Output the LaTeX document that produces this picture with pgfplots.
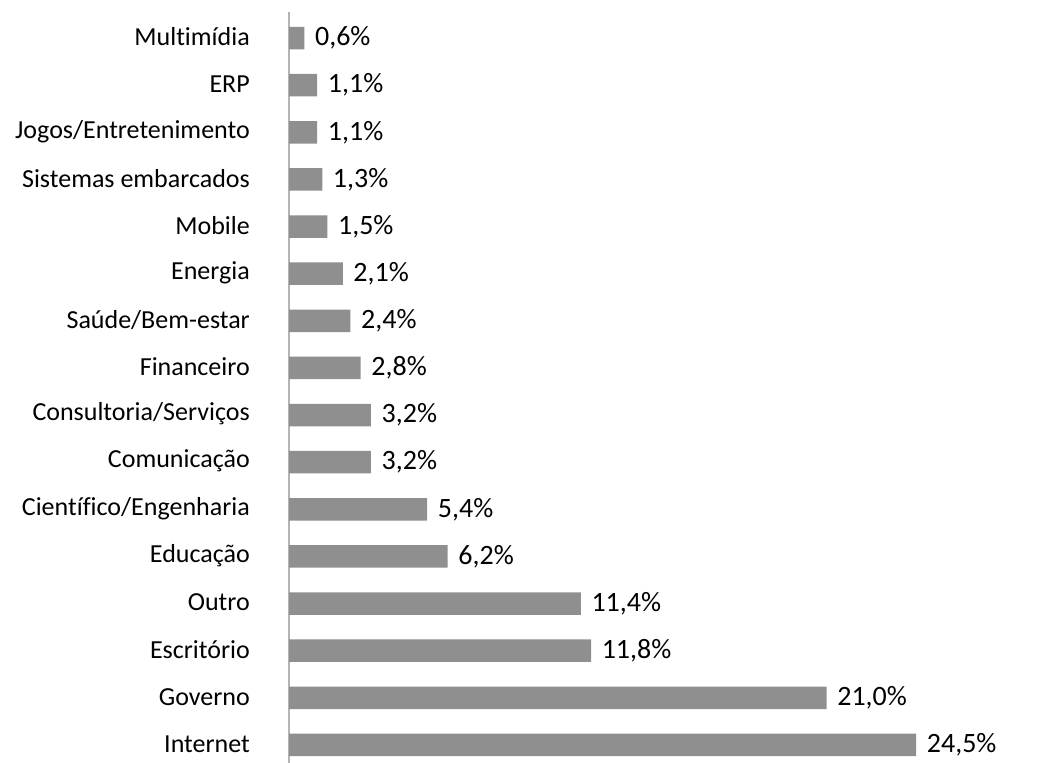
\documentclass[border=0pt]{standalone}
\usepackage{pgfplots}
\pgfplotsset{compat=1.18}
\usepackage{fontspec}
\setmainfont{Carlito}[RawFeature={-liga;-clig;-calt;-dlig}]
\definecolor{barc}{HTML}{8F8F8F}
\definecolor{axc}{HTML}{B4B4B4}
\begin{document}
\begin{tikzpicture}
\useasboundingbox (0,0) rectangle (1061bp,763bp);
\begin{axis}[
  at={(289bp,0.1bp)}, anchor=south west,
  scale only axis, width=742.4bp, height=750.8bp,
  xmin=0, xmax=29, ymin=-0.38, ymax=15.55,
  xbar, bar width=22.5bp, bar shift=0pt,
  axis x line=none,
  axis y line*=left,
  axis line style={draw=axc, line width=1.5bp},
  xtick=\empty,
  ytick={0,...,15},
  yticklabels={Internet,Governo,Escritório,Outro,Educação,Científico/Engenharia,Comunicação,Consultoria/Serviços,Financeiro,Saúde/Bem-estar,Energia,Mobile,Sistemas embarcados,Jogos/Entretenimento,ERP,Multimídia},
  major tick length=0pt,
  yticklabel style={anchor=east, inner sep=0pt, xshift=-39bp, yshift=1bp, font=\fontsize{26bp}{30bp}\selectfont},
  nodes near coords={\pgfmathprintnumber[fixed,fixed zerofill,precision=1,use comma,assume math mode=true]{\pgfplotspointmeta}\%},
  nodes near coords style={anchor=west, inner sep=0pt, xshift=10.5bp, font=\fontsize{28bp}{32bp}\selectfont, black},
  clip=false,
]
\addplot[fill=barc, draw=none] coordinates {
  (24.5,0) (21.0,1) (11.8,2) (11.4,3) (6.2,4) (5.4,5) (3.2,6) (3.2,7)
  (2.8,8) (2.4,9) (2.1,10) (1.5,11) (1.3,12) (1.1,13) (1.1,14) (0.6,15)
};
\end{axis}
\end{tikzpicture}
\end{document}
